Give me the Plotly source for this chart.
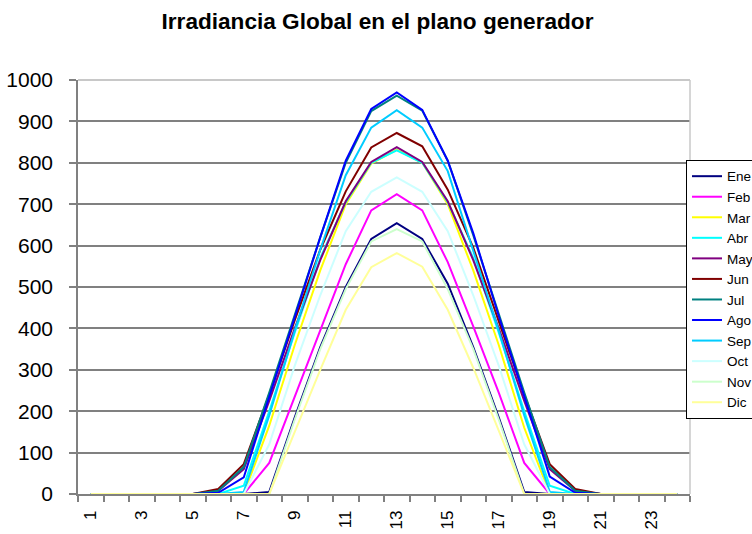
import plotly.graph_objects as go

hours = list(range(1, 25))
month_names = ["Ene", "Feb", "Mar", "Abr", "May", "Jun", "Jul", "Ago", "Sep", "Oct", "Nov", "Dic"]

ene = [0, 0, 0, 0, 0, 0, 0, 5, 185, 355, 500, 616, 654, 616, 508, 355, 185, 5, 0, 0, 0, 0, 0, 0]
feb = [0, 0, 0, 0, 0, 0, 0, 75, 235, 395, 555, 685, 724, 685, 560, 405, 245, 75, 0, 0, 0, 0, 0, 0]
mar = [0, 0, 0, 0, 0, 0, 0, 165, 360, 540, 700, 798, 832, 800, 700, 540, 360, 160, 0, 0, 0, 0, 0, 0]
abr = [0, 0, 0, 0, 0, 0, 20, 200, 390, 570, 705, 800, 830, 800, 705, 570, 390, 200, 20, 0, 0, 0, 0, 0]
may = [0, 0, 0, 0, 0, 8, 60, 225, 400, 565, 707, 802, 838, 802, 707, 565, 400, 225, 60, 8, 0, 0, 0, 0]
jun = [0, 0, 0, 0, 0, 12, 72, 240, 420, 590, 731, 837, 872, 840, 735, 595, 420, 240, 72, 12, 0, 0, 0, 0]
jul = [0, 0, 0, 0, 0, 8, 65, 245, 435, 620, 800, 925, 962, 926, 805, 625, 435, 245, 65, 8, 0, 0, 0, 0]
ago = [0, 0, 0, 0, 0, 3, 40, 235, 430, 620, 805, 930, 970, 928, 805, 630, 430, 235, 42, 3, 0, 0, 0, 0]
sep = [0, 0, 0, 0, 0, 0, 5, 190, 395, 590, 770, 885, 927, 885, 780, 590, 395, 190, 5, 0, 0, 0, 0, 0]
oct_ = [0, 0, 0, 0, 0, 0, 0, 120, 310, 480, 635, 730, 765, 730, 635, 480, 310, 120, 0, 0, 0, 0, 0, 0]
nov = [0, 0, 0, 0, 0, 0, 0, 0, 180, 350, 495, 610, 640, 610, 495, 350, 180, 0, 0, 0, 0, 0, 0, 0]
dic = [0, 0, 0, 0, 0, 0, 0, 0, 150, 300, 445, 548, 582, 549, 445, 305, 153, 0, 0, 0, 0, 0, 0, 0]

series = [ene, feb, mar, abr, may, jun, jul, ago, sep, oct_, nov, dic]
colors = ["#000080", "#FF00FF", "#FFFF00", "#00FFFF", "#800080", "#800000",
          "#008080", "#0000FF", "#00CCFF", "#CCFFFF", "#CCFFCC", "#FFFF99"]

y_ticks = list(range(0, 1001, 100))
x_label_ticks = list(range(1, 24, 2))

fig = go.Figure()
for name, vals, col in zip(month_names, series, colors):
    fig.add_trace(go.Scatter(x=hours, y=vals, mode="lines", name=name,
                             line=dict(color=col, width=2)))

FONT = "Liberation Sans, Arial, sans-serif"

fig.update_layout(
    width=752, height=534,
    margin=dict(l=78, r=62, t=80, b=40, autoexpand=False),
    paper_bgcolor="white", plot_bgcolor="white",
    title=dict(text="<b>Irradiancia Global en el plano generador</b>",
               x=377.5 / 752, xanchor="center", xref="container",
               y=1 - 21 / 534, yanchor="middle", yref="container",
               font=dict(family=FONT, size=22.6, color="black")),
    font=dict(family=FONT, color="black"),
    legend=dict(x=0.9935, xanchor="left", y=0.807, yanchor="top",
                bordercolor="#000000", borderwidth=1, bgcolor="white",
                font=dict(family=FONT, size=13.5, color="black"),
                itemwidth=30, tracegroupgap=0),
    showlegend=True,
)

fig.update_xaxes(
    range=[0.5, 24.5], showgrid=False, zeroline=False,
    tickmode="array", tickvals=x_label_ticks, ticktext=[str(v) for v in x_label_ticks],
    ticks="", tickangle=-90, tickfont=dict(family=FONT, size=17, color="black"),
    ticklabelstandoff=8,
    showline=True, linecolor="#808080", linewidth=1.5,
    minor=dict(tickmode="linear", tick0=0.5, dtick=1, ticks="outside", ticklen=6,
               tickcolor="#808080", tickwidth=1.5, showgrid=False),
    layer="below traces", automargin=False,
)
fig.update_yaxes(
    range=[0, 1000], tickmode="array", tickvals=y_ticks,
    showgrid=True, gridcolor="#808080", gridwidth=1.5, zeroline=False,
    ticks="outside", ticklen=7, tickcolor="#808080", tickwidth=1.5,
    tickfont=dict(family=FONT, size=21, color="black"),
    ticklabelstandoff=12,
    showline=True, linecolor="#808080", linewidth=1.5,
    layer="below traces", automargin=False,
)

# light plot-area border on top and right
fig.add_shape(type="line", xref="paper", yref="paper", x0=0, x1=1, y0=1, y1=1,
              line=dict(color="#C8C8C8", width=2), layer="above")
fig.add_shape(type="line", xref="paper", yref="paper", x0=1, x1=1, y0=0, y1=1,
              line=dict(color="#C8C8C8", width=1.5), layer="above")

# remove the default page margin so the figure sits at the window's top-left corner
fig.write_html("out.html",
               config={"displayModeBar": False},
               post_script="document.body.style.margin='0';document.body.style.overflow='hidden';")
